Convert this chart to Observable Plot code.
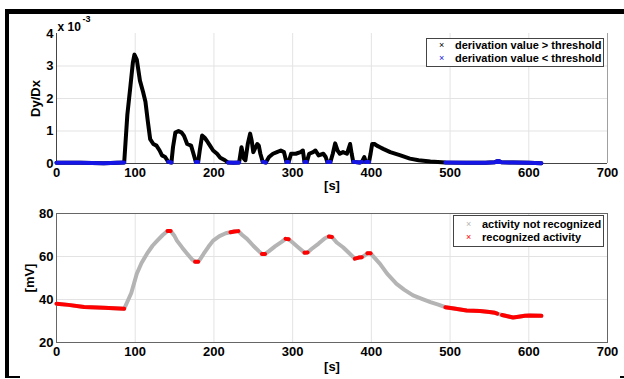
<!DOCTYPE html>
<html><head><meta charset="utf-8">
<script src="https://cdn.jsdelivr.net/npm/d3@7"></script>
<script src="https://cdn.jsdelivr.net/npm/@observablehq/plot@0.6"></script>
<style>
body{margin:0;background:#fff;}
#wrap{position:relative;width:624px;height:379px;overflow:hidden;font-family:"Liberation Sans",Arial,sans-serif;background:#fff;}
.bar{position:absolute;background:#000;}
#top,#bot{position:absolute;left:0;}
#top{top:0}
#bot{top:190px}
.legend{position:absolute;border:1px solid #444;background:#fff;font-weight:bold;font-size:11px;color:#000;}
.row{position:absolute;left:0;white-space:nowrap;line-height:13px;}
.mk{position:absolute;font-size:9px;font-weight:normal;line-height:13px;}
</style></head><body>
<div id="wrap">
 <div id="top"></div>
 <div id="bot"></div>
 <div class="legend" style="left:426px;top:38px;width:176px;height:27px">
  <div class="row" style="top:0px"><span class="mk" style="left:12px;color:#000">×</span><span style="position:absolute;left:28px">derivation value &gt; threshold</span></div>
  <div class="row" style="top:13px"><span class="mk" style="left:12px;color:#1515e6">×</span><span style="position:absolute;left:28px">derivation value &lt; threshold</span></div>
 </div>
 <div class="legend" style="left:453px;top:215px;width:149px;height:30px">
  <div class="row" style="top:2px"><span class="mk" style="left:12px;color:#b4b4b4">×</span><span style="position:absolute;left:28px">activity not recognized</span></div>
  <div class="row" style="top:15px"><span class="mk" style="left:12px;color:#f00">×</span><span style="position:absolute;left:28px">recognized activity</span></div>
 </div>
 <div class="bar" style="left:5px;top:9px;width:619px;height:5px"></div>
 <div class="bar" style="left:5px;top:9px;width:4px;height:369px"></div>
 <div class="bar" style="left:5px;top:376px;width:15px;height:2px"></div>
 <div class="bar" style="left:620px;top:376px;width:4px;height:2px"></div>
</div>
<script>
// ---- data ----
const xTicks = [0, 100, 200, 300, 400, 500, 600, 700];
const topYTicks = [0, 1, 2, 3, 4];
const botYTicks = [20, 40, 60, 80];

// derivative (units of 1e-3)
const topX = [0,30,60,86,90,94,97,99,102,106,110,113,116,119,123,127,131,134,138,142,146,148,151,155,159,162,166,171,174,177,180,182,185,188,191,195,199,204,208,214,218,225,232,235,238,240,243,246,248,250,253,255,257,259,262,266,270,275,280,285,289,292,295,298,304,310,313,315,318,321,326,329,333,339,342,344,348,351,354,357,360,364,369,373,375,377,385,388,391,393,397,399,401,404,407,411,415,424,437,449,460,475,494,520,545,557,561,565,580,600,616];
const topY = [0.02,0.02,0.01,0.03,1.5,2.4,3.1,3.35,3.2,2.55,2.2,1.9,1.3,0.75,0.6,0.55,0.4,0.25,0.2,0.05,0.03,0.5,0.95,1.0,0.95,0.85,0.6,0.55,0.3,0.05,0.05,0.4,0.86,0.8,0.7,0.55,0.4,0.3,0.18,0.1,0.03,0.02,0.03,0.5,0.15,0.1,0.6,0.92,0.7,0.35,0.5,0.6,0.55,0.3,0.05,0.03,0.2,0.3,0.35,0.4,0.35,0.05,0.05,0.3,0.3,0.35,0.4,0.05,0.05,0.3,0.35,0.4,0.25,0.3,0.2,0.05,0.05,0.3,0.62,0.4,0.3,0.35,0.3,0.6,0.3,0.05,0.03,0.05,0.2,0.05,0.05,0.3,0.6,0.6,0.55,0.5,0.45,0.35,0.25,0.15,0.1,0.06,0.03,0.02,0.02,0.04,0.08,0.04,0.03,0.02,0.01];
const topBelow = [[0,86],[142,146],[177,180],[218,232],[262,266],[292,295],[315,318],[344,348],[377,388],[393,397],[494,616]];

// potential [mV]
const botX = [0,15,35,60,86,95,102,108,115,122,128,135,141,145,150,153,160,166,172,176,180,183,187,193,199,207,215,221,226,231,236,242,250,257,261,265,270,278,286,291,295,300,308,315,319,324,333,341,346,350,356,364,372,379,384,388,392,395,399,405,411,420,432,442,453,465,475,485,494,505,521,538,550,557,560,566,573,580,587,595,601,616];
const botY = [38,37.5,36.5,36.2,35.7,43,52,57,61.3,65,67.4,70,71.9,71.9,69.5,67.4,64,61.3,58.7,57.6,57.6,59,61.3,64.5,67.4,69.5,70.8,71.3,71.6,71.8,70,68.2,65,62.5,61.2,61.2,62.5,64.8,66.8,68.2,68,66.5,64,61.8,61.9,63.5,66,68.5,69.3,69.1,66.5,64.3,61.5,59,59.5,59.7,60.6,61.5,61.5,59,56.6,52,47.3,44.5,41.9,40.2,38.8,37.6,36.4,35.8,34.9,34.6,34.2,33.8,33.4,32.8,32.2,31.6,32,32.4,32.6,32.4];
const botRecognized = [[0,86],[141,145],[176,180],[221,231],[261,265],[291,295],[315,319],[346,350],[379,388],[395,399],[494,560],[566,616]];

// ---- build tables ----
const topData = topX.map((x, i) => ({x, y: topY[i]}));
const botData = botX.map((x, i) => ({x, y: botY[i]}));
const pick = (data, ranges) => ranges.flatMap(([a, b], k) => data.filter(d => d.x >= a && d.x <= b).map(d => ({...d, k})));
const topBlue = pick(topData, topBelow);
const botRed = pick(botData, botRecognized);

const font = "'Liberation Sans', Arial, sans-serif";
const style = {fontFamily: font, fontWeight: "bold", fontSize: "13px", color: "#000", background: "transparent", overflow: "visible"};
const gridStroke = "#e3e3e3";

const topPlot = Plot.plot({
  width: 624, height: 190,
  marginLeft: 56, marginRight: 17, marginTop: 33, marginBottom: 27,
  x: {domain: [0, 700]},
  y: {domain: [0, 4]},
  style,
  marks: [
    Plot.gridX(xTicks.slice(1, -1), {stroke: gridStroke, strokeOpacity: 1}),
    Plot.gridY(topYTicks.slice(1, -1), {stroke: gridStroke, strokeOpacity: 1}),
    Plot.ruleX([700], {stroke: "#a0a0a0"}),
    Plot.ruleX([0], {stroke: "#444"}),
    Plot.ruleY([0], {stroke: "#444"}),
    Plot.axisX(xTicks, {tickSize: 0, tickPadding: 4, label: null}),
    Plot.axisY(topYTicks, {tickSize: 0, tickPadding: 3, label: null}),
    Plot.line(topData, {x: "x", y: "y", stroke: "#000", strokeWidth: 4}),
    Plot.line(topBlue, {x: "x", y: "y", z: "k", stroke: "#1515e6", strokeWidth: 4}),
    Plot.text(["Dy/Dx"], {text: d => d, frameAnchor: "left", dx: -21, rotate: -90, textAnchor: "middle", lineAnchor: "middle", fontSize: 13}),
    Plot.text(["[s]"], {text: d => d, frameAnchor: "bottom", dy: 22, textAnchor: "middle", lineAnchor: "middle", fontSize: 13}),
    Plot.text(["x 10"], {text: d => d, frameAnchor: "top-left", dx: 1, dy: -3, textAnchor: "start", lineAnchor: "bottom", fontSize: 12}),
    Plot.text(["-3"], {text: d => d, frameAnchor: "top-left", dx: 26, dy: -12, textAnchor: "start", lineAnchor: "bottom", fontSize: 9})
  ]
});
document.getElementById("top").appendChild(topPlot);

const botPlot = Plot.plot({
  width: 624, height: 189,
  marginLeft: 56, marginRight: 17, marginTop: 23, marginBottom: 37,
  x: {domain: [0, 700]},
  y: {domain: [20, 80]},
  style,
  marks: [
    Plot.gridX(xTicks.slice(1, -1), {stroke: gridStroke, strokeOpacity: 1}),
    Plot.gridY(botYTicks.slice(1, -1), {stroke: gridStroke, strokeOpacity: 1}),
    Plot.frame({stroke: "#666"}),
    Plot.axisX(xTicks, {tickSize: 0, tickPadding: 4, label: null}),
    Plot.axisY(botYTicks, {tickSize: 0, tickPadding: 3, label: null}),
    Plot.line(botData, {x: "x", y: "y", stroke: "#b4b4b4", strokeWidth: 4}),
    Plot.line(botRed, {x: "x", y: "y", z: "k", stroke: "#f00", strokeWidth: 4}),
    Plot.text(["[mV]"], {text: d => d, frameAnchor: "left", dx: -27, rotate: -90, textAnchor: "middle", lineAnchor: "middle", fontSize: 13}),
    Plot.text(["[s]"], {text: d => d, frameAnchor: "bottom", dy: 24, textAnchor: "middle", lineAnchor: "middle", fontSize: 13})
  ]
});
document.getElementById("bot").appendChild(botPlot);
</script>
</body></html>
